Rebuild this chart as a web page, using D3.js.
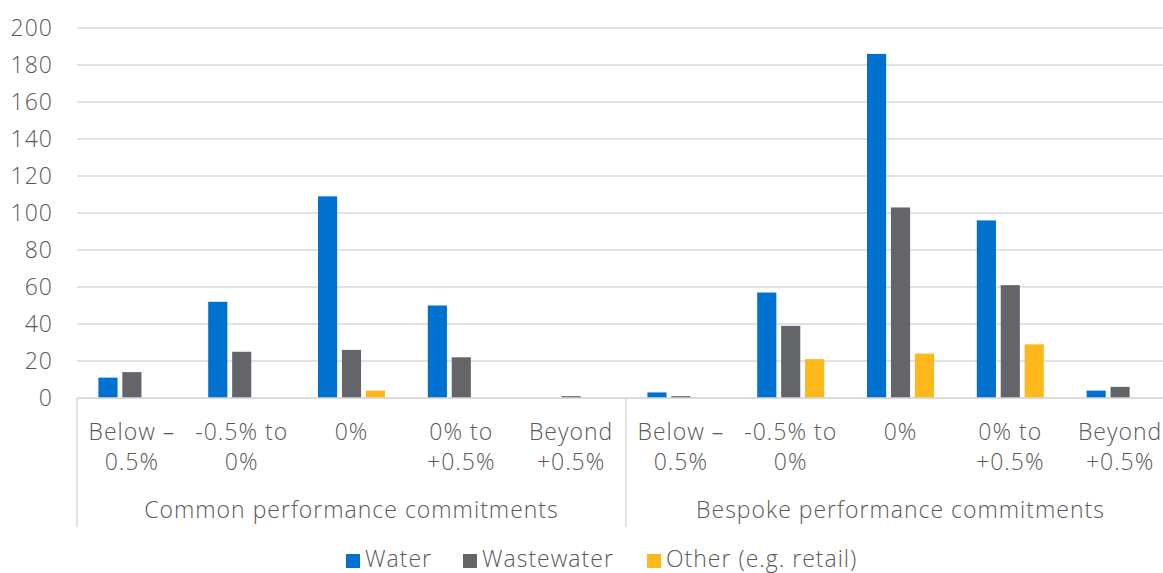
<!DOCTYPE html>
<html><head><meta charset="utf-8">
<script src="https://cdn.jsdelivr.net/npm/d3@7"></script>
<style>
html,body{margin:0;padding:0;background:#fff;overflow:hidden}
text{font-family:"Open Sans","Noto Sans",sans-serif;font-weight:300;fill:#595959;letter-spacing:1px}
</style></head>
<body><svg id="c" width="1163" height="573"></svg>
<script>
const groups = ["Common performance commitments", "Bespoke performance commitments"];
const categories = ["Below –|0.5%", "-0.5% to|0%", "0%", "0% to|+0.5%", "Beyond|+0.5%"];
const series = ["Water", "Wastewater", "Other (e.g. retail)"];
const water      = [11, 52, 109, 50, 0,   3, 57, 186, 96, 4];
const wastewater = [14, 25, 26, 22, 1,    1, 39, 103, 61, 6];
const other      = [0, 0, 4, 0, 0,        0, 21, 24, 29, 0];
const yTicks = [0, 20, 40, 60, 80, 100, 120, 140, 160, 180, 200];
const colors = ["#0071CE", "#636569", "#FFB81C"];

(function () {
const values = [water, wastewater, other];
const fs = 23;
const keys = [];
groups.forEach((g, gi) => categories.forEach((c, ci) => keys.push(gi + "|" + ci)));

const svg = d3.select("#c");
const mLeft = 77, mRight = 1175, mTop = 28, mBottom = 398;
const x0 = d3.scaleBand().domain(keys).range([mLeft, mRight]).padding(0);
const x1 = d3.scaleBand().domain(series).range([-33.5, 33.5]).paddingInner(0.2);
const y = d3.scaleLinear().domain([0, 200]).range([mBottom, mTop]);

svg.append("g").selectAll("line").data(yTicks).join("line")
  .attr("x1", mLeft).attr("x2", mRight)
  .attr("y1", d => y(d)).attr("y2", d => y(d))
  .attr("stroke", "#d9d9d9").attr("stroke-width", 1.5);

const yAxis = d3.axisLeft(y).tickValues(yTicks).tickSize(0).tickPadding(0);
const ga = svg.append("g").attr("transform", `translate(${mLeft - 24},0)`).call(yAxis);
ga.select(".domain").remove();
ga.selectAll("text").attr("font-size", fs).attr("font-family", null).attr("fill", "#595959");

series.forEach((s, si) => {
  svg.append("g").selectAll("rect").data(keys).join("rect")
    .attr("x", (k) => x0(k) + x0.bandwidth() / 2 + x1(s))
    .attr("width", x1.bandwidth())
    .attr("y", (k, i) => y(values[si][i]))
    .attr("height", (k, i) => mBottom - y(values[si][i]))
    .attr("fill", colors[si]);
});

svg.append("line").attr("x1", mLeft).attr("x2", mRight).attr("y1", mBottom).attr("y2", mBottom)
  .attr("stroke", "#d9d9d9").attr("stroke-width", 1.5);

const sepX = [mLeft, x0(keys[categories.length]), mRight];
svg.append("g").selectAll("line").data(sepX).join("line")
  .attr("x1", d => d).attr("x2", d => d).attr("y1", mBottom).attr("y2", 527)
  .attr("stroke", "#d9d9d9").attr("stroke-width", 1.5);

const cl = svg.append("g");
keys.forEach((k, i) => {
  const ci = i % categories.length;
  const lines = categories[ci].split("|");
  const cx = x0(k) + x0.bandwidth() / 2;
  const t = cl.append("text").attr("text-anchor", "middle").attr("font-size", fs).attr("x", cx);
  lines.forEach((ln, li) => t.append("tspan").attr("x", cx).attr("y", 440 + li * 30).text(ln));
});

groups.forEach((g, gi) => {
  const a = x0(gi + "|0"), b = x0(gi + "|" + (categories.length - 1)) + x0.bandwidth();
  svg.append("text").attr("text-anchor", "middle").attr("font-size", fs)
    .attr("x", (a + b) / 2).attr("y", 518).text(g);
});

const legX = [346, 463, 647];
const lg = svg.append("g");
series.forEach((s, si) => {
  lg.append("rect").attr("x", legX[si]).attr("y", 554).attr("width", 14).attr("height", 14).attr("fill", colors[si]);
  lg.append("text").attr("x", legX[si] + 19).attr("y", 567).attr("font-size", fs).text(s);
});
})();
</script></body></html>
